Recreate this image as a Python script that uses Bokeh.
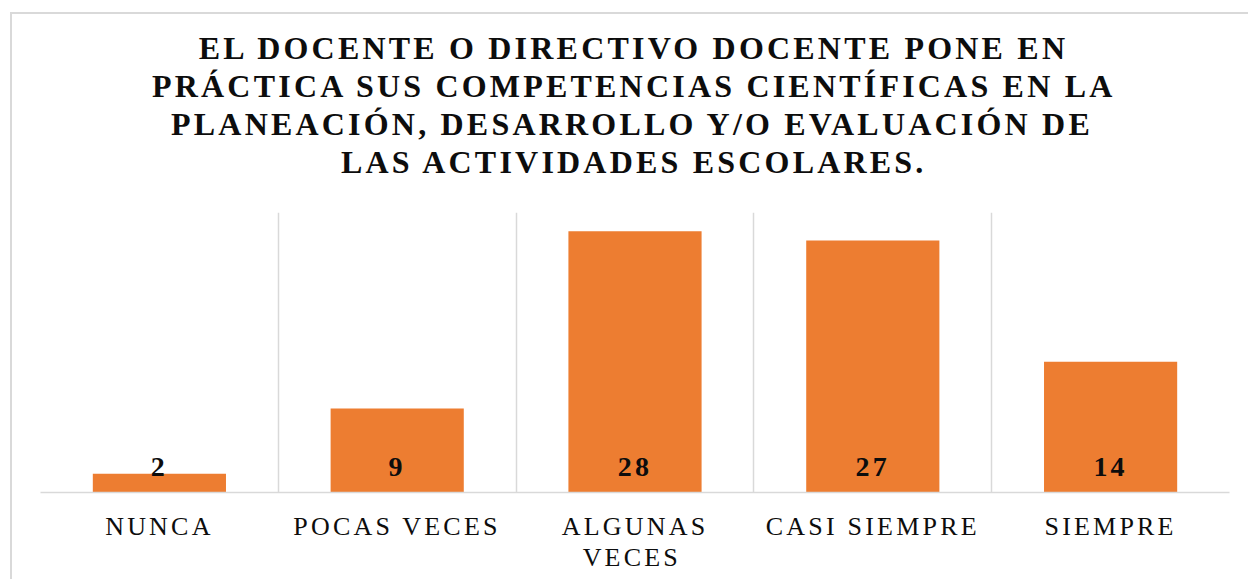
from bokeh.plotting import figure
from bokeh.models import ColumnDataSource, LabelSet, Range1d, FixedTicker, InlineStyleSheet, Title
from bokeh.core.properties import value
from bokeh.embed import file_html
from bokeh.resources import INLINE

categories = ["NUNCA", "POCAS VECES", "ALGUNAS VECES", "CASI SIEMPRE", "SIEMPRE"]
tick_labels = ["NUNCA", "POCAS VECES", "ALGUNAS\nVECES", "CASI SIEMPRE", "SIEMPRE"]
values = [2, 9, 28, 27, 14]
title_lines = [
    "EL DOCENTE O DIRECTIVO DOCENTE PONE EN",
    "PRÁCTICA SUS COMPETENCIAS CIENTÍFICAS EN LA",
    "PLANEACIÓN, DESARROLLO Y/O EVALUACIÓN DE",
    "LAS ACTIVIDADES ESCOLARES.",
]

FONT = "Liberation Serif"
SP = 3.2          # letter spacing (px) applied through CSS
W, H = 1248, 579
LEFT, RIGHT, TOP, BOTTOM = 40, 19, 212, 87
TITLE_SIZE = 32
frame_w = W - LEFT - RIGHT
cat_px = frame_w / len(categories)

# Times/Liberation Serif Bold advance widths (1/1000 em), used to centre letter-spaced title lines
BOLD_W = dict(A=722, B=667, C=722, D=722, E=667, F=611, G=778, H=778, I=389, J=500, K=778,
              L=667, M=944, N=722, O=778, P=611, Q=778, R=722, S=556, T=667, U=722, V=722,
              W=1000, X=722, Y=722, Z=667)
BOLD_W.update({" ": 250, ",": 250, ".": 250, "/": 278, "Á": 722, "Í": 389, "Ó": 778})


def spaced_width(s, size):
    return sum(BOLD_W.get(c, 700) for c in s) * size / 1000 + (len(s) - 1) * SP


xs = [i + 0.5 for i in range(len(categories))]
labels_txt = [str(v) for v in values]
src = ColumnDataSource(dict(x=xs, top=values, label=labels_txt,
                            xoff=[-len(s) * SP / 2 for s in labels_txt]))

p = figure(width=W, height=H, output_backend="svg", toolbar_location=None,
           x_range=Range1d(0, len(categories)), y_range=Range1d(0, 30),
           min_border_left=LEFT, min_border_right=RIGHT, min_border_top=TOP,
           min_border_bottom=BOTTOM, title=None)

# spacer between the plot area and the title block
p.add_layout(Title(text=" ", text_font_size="1px", standoff=30), "above")
# stack title lines: later-added titles sit farther from the frame
for line in reversed(title_lines):
    off = (frame_w - spaced_width(line, TITLE_SIZE)) / 2 - 2
    t = Title(text=line, align="left", offset=off, text_font=FONT,
              text_font_size=f"{TITLE_SIZE}px", text_font_style="bold",
              text_color="#0d0d0d", text_line_height=1.08, standoff=0)
    p.add_layout(t, "above")

p.vbar(x="x", top="top", width=0.56, bottom=0, source=src, fill_color="#ED7D31", line_color=None)

labels = LabelSet(x="x", y=0, text="label", source=src, y_offset=17, x_offset="xoff",
                  text_align="center", text_baseline="alphabetic",
                  text_font=value(FONT), text_font_size="28px", text_font_style="bold",
                  text_color="#0d0d0d")
p.add_layout(labels)

p.yaxis.visible = False
p.ygrid.visible = False
p.xgrid.ticker = FixedTicker(ticks=list(range(len(categories) + 1)))
p.xgrid.grid_line_color = "#d9d9d9"
p.xgrid.grid_line_width = 1.5

# tick positions nudged left to compensate for the CSS letter spacing
longest = [max(len(s) for s in t.split("\n")) for t in tick_labels]
tick_pos = [round(x - n * SP / 2 / cat_px, 5) for x, n in zip(xs, longest)]
ax = p.xaxis[0]
ax.ticker = FixedTicker(ticks=tick_pos)
ax.major_label_overrides = {x: t for x, t in zip(tick_pos, tick_labels)}
ax.major_tick_line_color = None
ax.minor_tick_line_color = None
ax.axis_line_color = "#d9d9d9"
ax.axis_line_width = 1.5
ax.major_label_standoff = 13
ax.major_label_text_font = FONT
ax.major_label_text_font_size = "26px"
ax.major_label_text_line_height = 1.1
ax.major_label_text_color = "#0d0d0d"

p.outline_line_color = None

p.stylesheets = [InlineStyleSheet(css=f"""
:host {{ letter-spacing: {SP}px; position: relative; }}
:host::after {{ content: ""; position: absolute; left: 10px; top: 12px; right: -20px; bottom: -20px;
  border-left: 2px solid #d9d9d9; border-top: 2px solid #d9d9d9; pointer-events: none; z-index: 10; }}
""")]

open("out.html", "w").write(file_html(p, INLINE))
